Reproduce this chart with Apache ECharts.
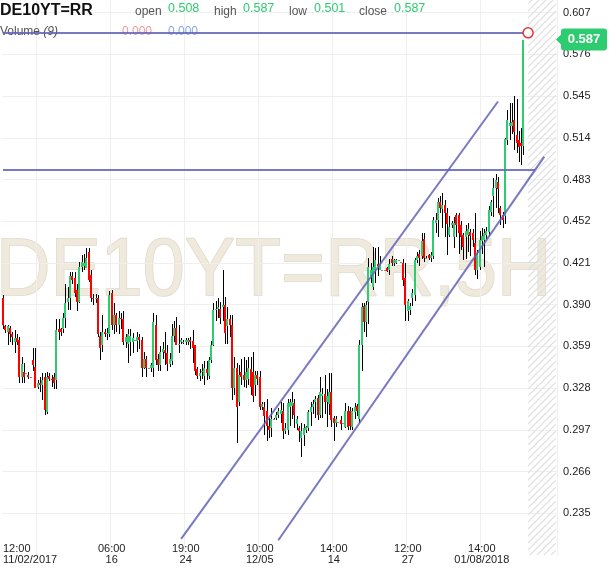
<!DOCTYPE html>
<html><head><meta charset="utf-8">
<script src="https://cdn.jsdelivr.net/npm/echarts@6/dist/echarts.min.js"></script>
<style>html,body{margin:0;padding:0;background:#fff}#c{width:610px;height:568px}</style>
</head><body><div id="c"></div>
<script>
// ---------- data ----------
const symbolName = 'DE10YT=RR';
const watermarkText = 'DE10YT=RR,5H';
const volumeLabel = 'Volume';
const volumeParam = '(9)';
const volumeValues = ['0.000', '0.000'];
const tickLabels = ['12:00\n11/02/2017', '06:00\n16', '19:00\n24', '10:00\n12/05', '14:00\n14', '12:00\n27', '14:00\n01/08/2018'];
const tickIndex = [15, 47, 79, 111, 143, 175, 207];
const futureBars = 14;
const yMin = 0.204, yMax = 0.6164, yStep = 0.031;
// [open, close, low, high]
const candles = [
[0.395,0.375,0.372,0.397],[0.374,0.371,0.369,0.375],[0.370,0.374,0.360,0.375],[0.373,0.368,0.362,0.374],[0.368,0.366,0.360,0.370],
[0.362,0.365,0.354,0.371],[0.365,0.362,0.360,0.368],[0.364,0.336,0.332,0.366],[0.336,0.346,0.332,0.351],[0.340,0.336,0.332,0.347],
[0.339,0.339,0.339,0.339],[0.338,0.336,0.335,0.340],[0.336,0.336,0.336,0.336],[0.349,0.345,0.341,0.358],[0.344,0.328,0.328,0.358],
[0.329,0.332,0.327,0.334],[0.332,0.330,0.325,0.336],[0.330,0.334,0.319,0.339],[0.336,0.312,0.308,0.339],[0.310,0.336,0.309,0.340],
[0.337,0.335,0.333,0.339],[0.335,0.334,0.329,0.338],[0.336,0.332,0.327,0.339],[0.334,0.371,0.327,0.379],[0.372,0.370,0.364,0.379],
[0.372,0.370,0.367,0.373],[0.372,0.380,0.369,0.384],[0.380,0.391,0.373,0.405],[0.392,0.395,0.386,0.403],[0.395,0.411,0.386,0.414],
[0.411,0.408,0.405,0.414],[0.410,0.399,0.396,0.414],[0.401,0.392,0.385,0.405],[0.392,0.418,0.391,0.422],[0.418,0.422,0.414,0.427],
[0.419,0.421,0.416,0.428],[0.417,0.425,0.417,0.432],[0.429,0.408,0.407,0.432],[0.412,0.395,0.392,0.416],[0.395,0.394,0.390,0.398],
[0.394,0.395,0.391,0.398],[0.395,0.368,0.366,0.397],[0.367,0.358,0.349,0.370],[0.360,0.370,0.355,0.382],[0.370,0.368,0.366,0.372],
[0.368,0.369,0.364,0.373],[0.368,0.397,0.366,0.400],[0.399,0.375,0.371,0.401],[0.375,0.382,0.368,0.391],[0.382,0.375,0.370,0.384],
[0.375,0.380,0.368,0.385],[0.380,0.379,0.372,0.384],[0.379,0.362,0.360,0.385],[0.362,0.366,0.358,0.368],[0.361,0.368,0.347,0.372],
[0.362,0.367,0.352,0.372],[0.362,0.365,0.354,0.369],[0.364,0.364,0.364,0.364],[0.363,0.366,0.355,0.370],[0.366,0.364,0.357,0.368],
[0.364,0.343,0.336,0.366],[0.343,0.350,0.342,0.355],[0.350,0.343,0.336,0.352],[0.343,0.343,0.343,0.343],[0.343,0.345,0.340,0.347],
[0.343,0.377,0.336,0.384],[0.375,0.349,0.345,0.382],[0.350,0.345,0.341,0.353],[0.345,0.355,0.341,0.359],[0.355,0.357,0.350,0.362],
[0.356,0.354,0.345,0.370],[0.354,0.346,0.341,0.360],[0.346,0.350,0.344,0.354],[0.348,0.367,0.345,0.376],[0.367,0.373,0.362,0.378],
[0.373,0.360,0.360,0.381],[0.360,0.361,0.354,0.375],[0.362,0.364,0.361,0.365],[0.362,0.362,0.361,0.364],[0.362,0.364,0.360,0.365],
[0.362,0.364,0.360,0.365],[0.364,0.362,0.357,0.366],[0.363,0.358,0.347,0.371],[0.360,0.341,0.338,0.360],[0.342,0.337,0.335,0.344],
[0.337,0.339,0.333,0.342],[0.340,0.341,0.335,0.346],[0.337,0.343,0.330,0.348],[0.342,0.339,0.334,0.348],[0.337,0.349,0.335,0.351],
[0.349,0.360,0.347,0.363],[0.360,0.386,0.359,0.391],[0.386,0.387,0.378,0.393],[0.387,0.388,0.380,0.395],[0.387,0.380,0.376,0.392],
[0.388,0.390,0.378,0.416],[0.390,0.369,0.361,0.396],[0.374,0.379,0.361,0.388],[0.379,0.375,0.366,0.382],[0.375,0.328,0.319,0.382],
[0.328,0.343,0.323,0.351],[0.343,0.314,0.287,0.347],[0.318,0.338,0.315,0.345],[0.340,0.336,0.330,0.350],[0.338,0.334,0.329,0.351],
[0.334,0.340,0.328,0.349],[0.335,0.343,0.330,0.351],[0.342,0.329,0.323,0.351],[0.340,0.322,0.318,0.355],[0.330,0.338,0.322,0.341],
[0.338,0.335,0.330,0.341],[0.336,0.314,0.312,0.341],[0.314,0.316,0.312,0.318],[0.314,0.307,0.293,0.318],[0.311,0.300,0.289,0.320],
[0.300,0.297,0.291,0.306],[0.298,0.305,0.292,0.313],[0.305,0.305,0.304,0.306],[0.306,0.308,0.304,0.310],[0.308,0.311,0.306,0.313],
[0.309,0.312,0.302,0.318],[0.311,0.296,0.290,0.317],[0.296,0.298,0.294,0.302],[0.297,0.317,0.293,0.320],[0.314,0.318,0.300,0.320],
[0.315,0.318,0.305,0.325],[0.317,0.308,0.298,0.320],[0.301,0.305,0.297,0.307],[0.298,0.296,0.288,0.300],[0.291,0.296,0.277,0.302],
[0.293,0.298,0.285,0.301],[0.297,0.299,0.295,0.300],[0.298,0.310,0.296,0.312],[0.310,0.314,0.300,0.318],[0.314,0.316,0.309,0.319],
[0.318,0.320,0.306,0.322],[0.321,0.308,0.304,0.323],[0.308,0.325,0.306,0.336],[0.322,0.324,0.306,0.328],[0.324,0.318,0.309,0.338],
[0.318,0.322,0.299,0.327],[0.316,0.325,0.308,0.339],[0.325,0.304,0.299,0.339],[0.306,0.302,0.289,0.307],[0.302,0.305,0.299,0.307],
[0.303,0.303,0.303,0.303],[0.304,0.301,0.297,0.307],[0.302,0.302,0.302,0.302],[0.299,0.311,0.298,0.317],[0.311,0.299,0.297,0.315],
[0.311,0.300,0.297,0.314],[0.299,0.311,0.297,0.313],[0.310,0.314,0.305,0.317],[0.315,0.311,0.307,0.316],[0.305,0.360,0.302,0.364],
[0.360,0.388,0.341,0.391],[0.389,0.377,0.370,0.391],[0.377,0.390,0.366,0.393],[0.392,0.418,0.376,0.425],[0.411,0.416,0.406,0.421],
[0.403,0.418,0.401,0.433],[0.416,0.423,0.406,0.432],[0.420,0.419,0.411,0.433],[0.416,0.420,0.416,0.426],[0.416,0.416,0.416,0.416],
[0.416,0.416,0.416,0.416],[0.417,0.415,0.414,0.418],[0.416,0.420,0.412,0.424],[0.424,0.421,0.419,0.426],[0.421,0.423,0.419,0.424],
[0.421,0.423,0.420,0.424],[0.423,0.423,0.423,0.423],[0.422,0.422,0.422,0.422],[0.421,0.408,0.404,0.424],[0.410,0.390,0.378,0.421],
[0.385,0.393,0.378,0.394],[0.386,0.389,0.382,0.391],[0.395,0.399,0.389,0.402],[0.397,0.423,0.393,0.425],[0.423,0.426,0.421,0.429],
[0.428,0.425,0.419,0.431],[0.426,0.437,0.424,0.443],[0.439,0.425,0.422,0.443],[0.425,0.425,0.424,0.426],[0.427,0.425,0.423,0.428],
[0.425,0.427,0.422,0.429],[0.426,0.453,0.424,0.455],[0.451,0.453,0.443,0.458],[0.453,0.466,0.440,0.469],[0.466,0.462,0.458,0.471],
[0.461,0.464,0.447,0.473],[0.464,0.458,0.440,0.468],[0.458,0.450,0.427,0.462],[0.442,0.448,0.440,0.456],[0.449,0.451,0.447,0.452],
[0.440,0.451,0.432,0.455],[0.457,0.449,0.440,0.458],[0.457,0.443,0.428,0.458],[0.449,0.440,0.431,0.452],[0.442,0.433,0.423,0.443],
[0.440,0.445,0.424,0.449],[0.442,0.446,0.429,0.451],[0.444,0.441,0.426,0.446],[0.443,0.438,0.433,0.446],[0.436,0.416,0.412,0.458],
[0.416,0.428,0.409,0.431],[0.418,0.438,0.416,0.445],[0.437,0.441,0.428,0.447],[0.438,0.443,0.418,0.446],[0.442,0.445,0.439,0.448],
[0.444,0.460,0.441,0.463],[0.459,0.466,0.456,0.468],[0.471,0.477,0.455,0.484],[0.477,0.483,0.462,0.487],[0.481,0.476,0.458,0.485],
[0.462,0.457,0.449,0.463],[0.457,0.453,0.447,0.459],[0.456,0.513,0.450,0.514],[0.512,0.527,0.509,0.535],[0.523,0.525,0.512,0.540],
[0.523,0.526,0.517,0.540],[0.527,0.518,0.505,0.545],[0.516,0.510,0.503,0.543],[0.512,0.507,0.496,0.519],[0.510,0.508,0.494,0.521],
[0.508,0.587,0.501,0.587]
];
// user-drawn trend lines: [[barIndex, value], [barIndex, value]]
const trendLines = [
  [[0, 0.592], [227, 0.592]],
  [[0, 0.490], [230, 0.490]],
  [[77, 0.216], [214, 0.541]],
  [[119, 0.215], [234, 0.500]]
];
const handlePoint = [227, 0.592];

// ---------- styles ----------
const FONT = '"Liberation Sans", Arial, sans-serif';
const UP = '#2ecc71', DOWN = '#ff0000', FLAT = '#8a8a8a', WICK = '#000000';
const TREND = 'rgba(98,98,184,0.85)';

const nCat = candles.length + futureBars;
const categories = [];
for (let i = 0; i < nCat; i++) categories.push(String(i));
categories[0] = { value: '0', textStyle: { align: 'left' } };
const labelAt = {};
labelAt[0] = tickLabels[0];
for (let k = 1; k < tickIndex.length; k++) labelAt[tickIndex[k]] = tickLabels[k];

const seriesData = candles.map((c, i) => [i, c[0], c[1], c[2], c[3]]);

function renderCandle(params, api) {
  const i = api.value(0);
  const o = api.value(1), c = api.value(2), l = api.value(3), h = api.value(4);
  const pO = api.coord([i, o]), pC = api.coord([i, c]);
  const pH = api.coord([i, h]), pL = api.coord([i, l]);
  const x = Math.round(pO[0] - 1);
  const children = [];
  const yH = Math.round(pH[1]), yL = Math.round(pL[1]);
  if (yL > yH) children.push({ type: 'rect', shape: { x: x + 1, y: yH, width: 1, height: yL - yH }, style: { fill: WICK } });
  const yT = Math.round(Math.min(pO[1], pC[1])), yB = Math.round(Math.max(pO[1], pC[1]));
  const col = c > o ? UP : (c < o ? DOWN : FLAT);
  children.push({ type: 'rect', shape: { x: x, y: yT, width: 2, height: Math.max(1, yB - yT) }, style: { fill: col } });
  return { type: 'group', children: children };
}

function hatchPattern() {
  const cv = document.createElement('canvas');
  cv.width = 7; cv.height = 7;
  const g = cv.getContext('2d');
  g.clearRect(0, 0, 7, 7);
  g.strokeStyle = '#dedede'; g.lineWidth = 1.2;
  g.beginPath();
  g.moveTo(0, 7); g.lineTo(7, 0);
  g.moveTo(-1, 1); g.lineTo(1, -1);
  g.moveTo(6, 8); g.lineTo(8, 6);
  g.stroke();
  return cv;
}

const chart = echarts.init(document.getElementById('c'), null, { renderer: 'canvas' });
const option = {
  animation: false,
  backgroundColor: '#ffffff',
  grid: { left: 0, right: 53, top: 0, bottom: 13, containLabel: false },
  xAxis: {
    type: 'category', data: categories, boundaryGap: true,
    axisLine: { show: false }, axisTick: { show: false },
    axisLabel: {
      interval: (i) => labelAt[i] !== undefined,
      formatter: (v, i) => labelAt[i] || '',
      margin: -12, fontSize: 11, lineHeight: 11, color: '#222', fontFamily: FONT
    },
    splitLine: { show: true, interval: (i) => tickIndex.indexOf(i) >= 0, lineStyle: { color: '#efefef', width: 1 } }
  },
  yAxis: {
    type: 'value', position: 'right', min: yMin, max: yMax, interval: yStep,
    axisLine: { show: false }, axisTick: { show: false },
    axisLabel: { margin: 6, fontSize: 11, color: '#222', fontFamily: FONT, formatter: (v) => v.toFixed(3), showMinLabel: false, showMaxLabel: false },
    splitLine: { show: true, showMinLine: false, showMaxLine: false, lineStyle: { color: '#efefef', width: 1 } }
  },
  series: [{
    type: 'custom', name: symbolName, renderItem: renderCandle, data: seriesData,
    encode: { x: 0, y: [1, 2, 3, 4] }, clip: true, z: 3,
    markArea: {
      silent: true,
      itemStyle: { color: { image: hatchPattern(), repeat: 'repeat' } },
      data: [[{ xAxis: candles.length + 1 }, { xAxis: nCat - 1 }]]
    },
    markLine: {
      silent: true, symbol: ['none', 'none'], animation: false,
      label: { show: false },
      lineStyle: { color: TREND, width: 2, type: 'solid' },
      emphasis: { disabled: true },
      data: trendLines.map(([a, b]) => [{ coord: a }, { coord: b }])
    },
    markPoint: {
      silent: true, symbol: 'circle', symbolSize: 10, animation: false,
      label: { show: false },
      itemStyle: { color: '#ffffff', borderColor: '#e03a3a', borderWidth: 1.5 },
      data: [{ coord: handlePoint }]
    }
  }]
};
chart.setOption(option);

const last = candles[candles.length - 1];
const tagY = chart.convertToPixel({ yAxisIndex: 0 }, last[1]);
const hdr = (x, y, text, font, fill, va) => ({ type: 'text', x: x, y: y, z: 1, silent: true,
  style: { text: text, font: font, fill: fill, verticalAlign: va || 'middle', align: 'left' } });
chart.setOption({
  graphic: [
    { type: 'text', x: -4, y: 272, scaleX: 0.92, z: -10, silent: true,
      style: { text: watermarkText, font: '82px ' + FONT, fill: '#efe9de', stroke: '#e0d8c6', lineWidth: 1.5, verticalAlign: 'middle', align: 'left' } },
    hdr(0, 11, symbolName, 'bold 16px ' + FONT, '#111'),
    hdr(135, 12, 'open', '12px ' + FONT, '#555'),
    hdr(168, 9, last[0].toFixed(3), '12.5px ' + FONT, UP),
    hdr(214, 12, 'high', '12px ' + FONT, '#555'),
    hdr(243, 9, last[3].toFixed(3), '12.5px ' + FONT, UP),
    hdr(289, 12, 'low', '12px ' + FONT, '#555'),
    hdr(314, 9, last[2].toFixed(3), '12.5px ' + FONT, UP),
    hdr(359, 12, 'close', '12px ' + FONT, '#555'),
    hdr(394, 9, last[1].toFixed(3), '12.5px ' + FONT, UP),
    { type: 'text', x: 0, y: 32, z: 1, silent: true,
      style: { text: '{a|' + volumeLabel + ' }{b|' + volumeParam + '}', verticalAlign: 'middle', align: 'left',
        rich: { a: { font: '12px ' + FONT, fill: '#555' }, b: { font: 'italic 12px ' + FONT, fill: '#555' } } } },
    hdr(122, 32, volumeValues[0], '12px ' + FONT, '#ee9a9a'),
    hdr(168, 32, volumeValues[1], '12px ' + FONT, '#8aa8e8'),
    { type: 'polygon', z: 20, silent: true, shape: { points: [[556, tagY], [562, tagY - 6], [562, tagY + 6]] }, style: { fill: UP } },
    { type: 'rect', z: 20, silent: true, shape: { x: 561, y: tagY - 11, width: 46, height: 22, r: 3 }, style: { fill: UP } },
    { type: 'text', z: 21, silent: true, x: 584, y: tagY,
      style: { text: last[1].toFixed(3), font: 'bold 13px ' + FONT, fill: '#ffffff', align: 'center', verticalAlign: 'middle' } }
  ]
});
</script>
</body></html>
